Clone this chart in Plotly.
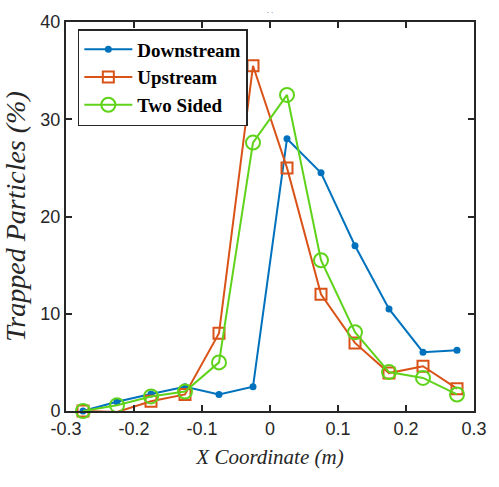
import plotly.graph_objects as go

x = [-0.275, -0.225, -0.175, -0.125, -0.075, -0.025, 0.025, 0.075, 0.125, 0.175, 0.225, 0.275]
downstream = [0.0, 0.95, 1.75, 2.5, 1.7, 2.5, 28.0, 24.5, 17.0, 10.5, 6.05, 6.25]
upstream = [0.0, -0.1, 1.0, 1.7, 8.0, 35.5, 25.0, 12.0, 7.0, 3.9, 4.6, 2.3]
two_sided = [0.0, 0.6, 1.5, 2.0, 5.0, 27.6, 32.5, 15.5, 8.1, 4.0, 3.4, 1.7]

SERIF = "Liberation Serif, Times New Roman, DejaVu Serif, serif"
SANS = "Liberation Sans"

fig = go.Figure()
fig.add_trace(go.Scatter(x=x, y=downstream, name="<b>Downstream</b>", mode="lines+markers",
                         line=dict(color="#0072BD", width=2),
                         marker=dict(symbol="circle", size=7, color="#0072BD"), cliponaxis=False))
fig.add_trace(go.Scatter(x=x, y=upstream, name="<b>Upstream</b>", mode="lines+markers",
                         line=dict(color="#D95319", width=2),
                         marker=dict(symbol="square-open", size=11, color="#D95319", line=dict(width=2)), cliponaxis=False))
fig.add_trace(go.Scatter(x=x, y=two_sided, name="<b>Two Sided</b>", mode="lines+markers",
                         line=dict(color="#5FD31A", width=2),
                         marker=dict(symbol="circle-open", size=14, color="#5FD31A", line=dict(width=2)), cliponaxis=False))

axis_common = dict(showline=True, linecolor="#262626", linewidth=2, mirror="ticks",
                   ticks="inside", ticklen=6, tickwidth=2, tickcolor="#262626",
                   showgrid=False, zeroline=False,
                   tickfont=dict(family=SANS, size=18, color="#262626"))

fig.update_layout(
    width=499, height=487,
    margin=dict(l=66, r=17, t=21, b=76),
    paper_bgcolor="white", plot_bgcolor="white",
    title=dict(text=". .", x=0.5, xref="paper", xanchor="center", y=0.985, yanchor="top",
               font=dict(family=SANS, size=8, color="#555555")),
    xaxis=dict(range=[-0.3, 0.3], tickvals=[-0.3, -0.2, -0.1, 0, 0.1, 0.2, 0.3],
               ticktext=["-0.3", "-0.2", "-0.1", "0", "0.1", "0.2", "0.3"],
               title=dict(text="X Coordinate (m)", standoff=12,
                          font=dict(family=SERIF, size=21, color="#262626", style="italic")),
               **axis_common),
    yaxis=dict(range=[0, 40], tickvals=[0, 10, 20, 30, 40],
               title=dict(text="Trapped Particles (%)", standoff=8,
                          font=dict(family=SERIF, size=28, color="#262626", style="italic")),
               **axis_common),
    legend=dict(x=0.029, y=0.982, xanchor="left", yanchor="top",
                bgcolor="white", bordercolor="#262626", borderwidth=1.5,
                itemwidth=48,
                font=dict(family=SERIF, size=19, color="black"),
                tracegroupgap=0),
    showlegend=True,
)

fig.write_html("out.html")
